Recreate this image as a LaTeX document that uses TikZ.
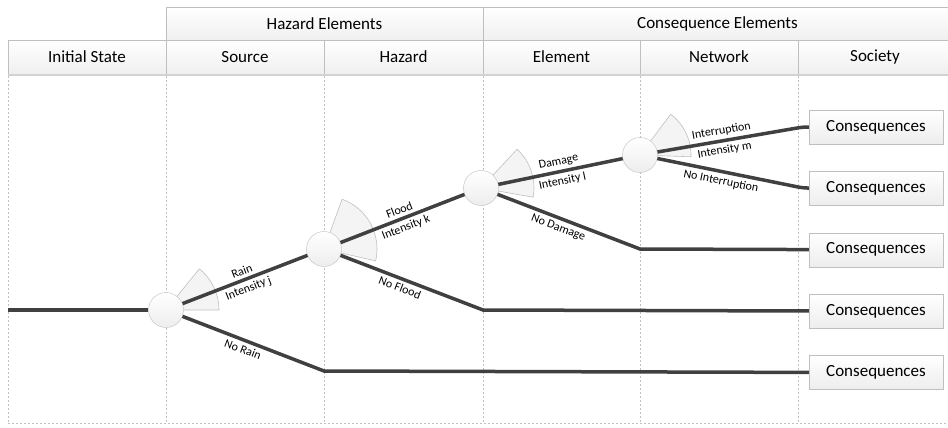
\documentclass[tikz,border=0pt]{standalone}
\usepackage{fontspec}
\setmainfont{Carlito}
\usetikzlibrary{positioning}
\definecolor{branchgray}{HTML}{404040}
\definecolor{rim}{HTML}{BFBFBF}

\begin{document}
\begin{tikzpicture}[
  x = 1pt,
  y = -1pt,
  chance/.style = {
    draw = rim,
    circle,
    top color = white,
    bottom color = gray!14,
    minimum size = 35pt,
    inner sep = 0pt,
  },
  outcome/.style = {
    draw = rim,
    rectangle,
    top color = white,
    bottom color = gray!14,
    minimum width = 134pt,
    minimum height = 34pt,
    font = \fontsize{17}{20}\selectfont,
  },
  header/.style = {
    draw = rim,
    rectangle,
    top color = white,
    bottom color = gray!12,
    minimum height = 33.5pt,
    inner sep = 0pt,
    outer sep = 0pt,
    font = \fontsize{17}{20}\selectfont,
  },
  branch/.style = {line width = 3.5pt, draw = branchgray},
  tag/.style = {sloped, inner sep = 3pt, font = \fontsize{12}{14}\selectfont},
  fan/.style = {fill = gray!9, draw = rim, line width = 0.6pt},
  guide/.style = {draw = rim, line width = 0.6pt, dash pattern = on 2pt off 2pt},
]

  \useasboundingbox (0,0) rectangle (948,428);

  \node[header,minimum width=158pt] (init) at (87,57) {Initial State};
  \node[header,minimum width=158pt] (source) [right=0pt of init] {Source};
  \node[header,minimum width=159pt] (hazard) [right=0pt of source] {Hazard};
  \node[header,minimum width=157pt] (element) [right=0pt of hazard] {Element};
  \node[header,minimum width=158pt] (network) [right=0pt of element] {Network};
  \node[header,minimum width=154pt] (society) [right=0pt of network] {Society};

  \node[header,minimum width=317pt] (hazgroup) [above right=0pt of source.north west] {Hazard Elements};
  \node[header,minimum width=469pt] (consgroup) [above right=0pt of element.north west] {Consequence Elements};

  \fill[gray!35] (init.south west) rectangle ([yshift=-2pt]society.south east);

  \coordinate (floor) at (0,423);
  \foreach \col in {init,source,hazard,element,network,society}
    \draw[guide] ([yshift=-2pt]\col.south west) -- (\col.south west |- floor);
  \draw[guide] (init.south west |- floor) -- (948,423);

  \path[fan] (166,310) -- ++(0:53pt) arc[start angle=0, end angle=51, radius=53pt] -- cycle;
  \path[fan] (324,249) -- ++(-13:53pt) arc[start angle=-13, end angle=70, radius=53pt] -- cycle;
  \path[fan] (481,188) -- ++(-10:53pt) arc[start angle=-10, end angle=47, radius=53pt] -- cycle;
  \path[fan] (640,155) -- ++(-2:51pt) arc[start angle=-2, end angle=53, radius=51pt] -- cycle;

  \node[chance] (rainnode) at (166,310) {};
  \node[chance] (floodnode) at (324,249) {};
  \node[chance] (damagenode) at (481,188) {};
  \node[chance] (interrnode) at (640,155) {};

  \node[outcome] (q1) at (876,127) {Consequences};
  \node[outcome] (q2) [below=27pt of q1] {Consequences};
  \node[outcome] (q3) [below=27pt of q2] {Consequences};
  \node[outcome] (q4) [below=27pt of q3] {Consequences};
  \node[outcome] (q5) [below=27pt of q4] {Consequences};

  \coordinate (start) at (8,310);
  \coordinate (norain) at (324,371);
  \coordinate (noflood) at (483,310);
  \coordinate (nodamage) at (640,249);
  \coordinate (interr) at (803,127);
  \coordinate (nointerr) at (803,188);

  \draw[branch] (start) -- (rainnode);
  \draw[branch] (rainnode) -- node[tag,above] {Rain} node[tag,below] {Intensity j} (floodnode);
  \draw[branch] (rainnode) -- node[tag,below,pos=0.45] {No Rain} (norain) -- (q5);
  \draw[branch] (floodnode) -- node[tag,above] {Flood} node[tag,below] {Intensity k} (damagenode);
  \draw[branch] (floodnode) -- node[tag,below,pos=0.44] {No Flood} (noflood) -- (q4);
  \draw[branch] (damagenode) -- node[tag,above] {Damage} node[tag,below] {Intensity l} (interrnode);
  \draw[branch] (damagenode) -- node[tag,below,pos=0.45] {No Damage} (nodamage) -- (q3);
  \draw[branch,rounded corners=5pt] (interrnode) -- node[tag,above,pos=0.45] {Interruption} node[tag,below,pos=0.45] {Intensity m} (interr) -- (q1);
  \draw[branch,rounded corners=5pt] (interrnode) -- node[tag,below,pos=0.45] {No Interruption} (nointerr) -- (q2);

\end{tikzpicture}
\end{document}
